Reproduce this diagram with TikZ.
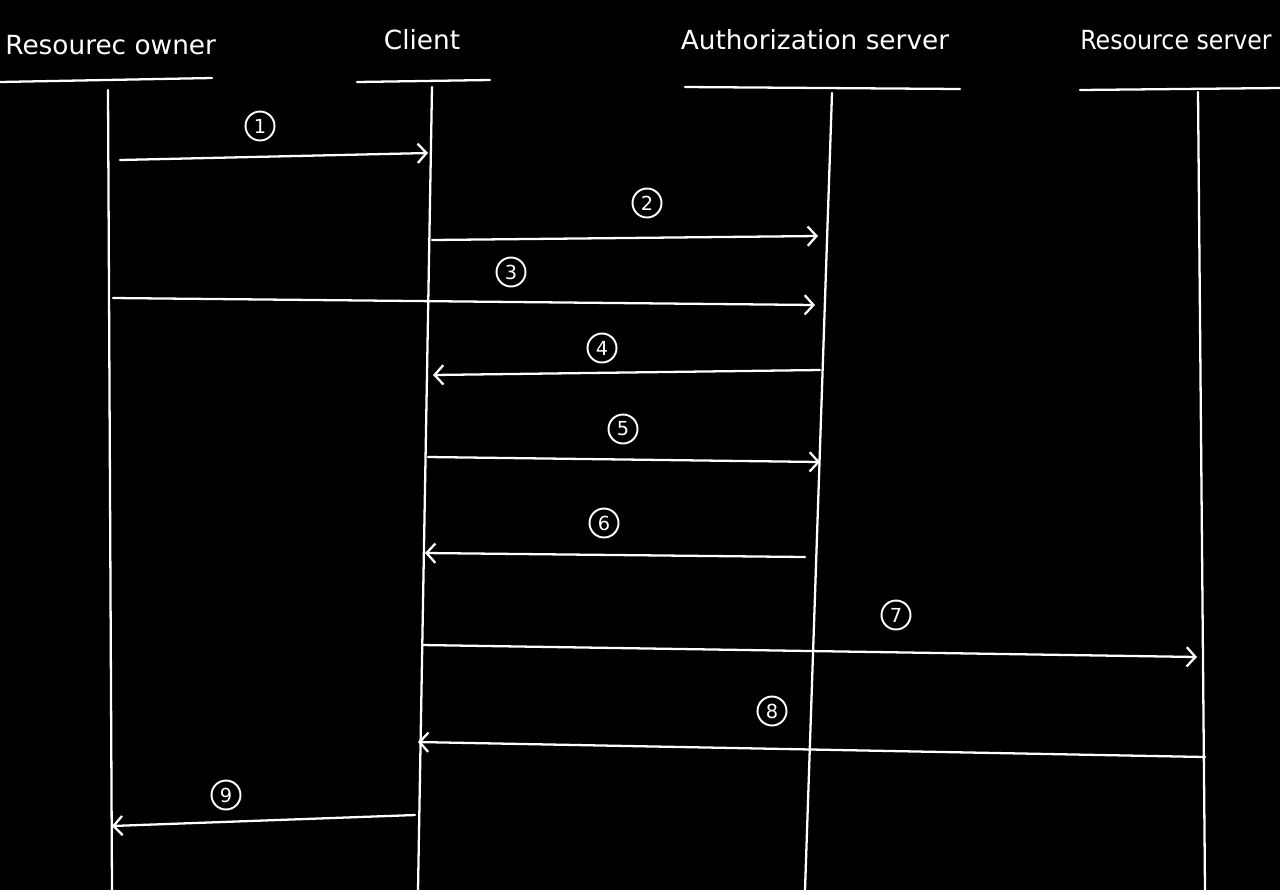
\documentclass[tikz,border=0pt]{standalone}
\usepackage{fontspec}
\setmainfont{DejaVu Sans}
\usetikzlibrary{arrows.meta,positioning}

\begin{document}
\begin{tikzpicture}[
    x=0.02cm, y=-0.02cm,
    actor/.style={text=white, font=\fontsize{15}{18}\selectfont, inner sep=0pt},
    header/.style={draw=white, line width=1.3pt, line cap=round},
    lifeline/.style={draw=white, line width=1.3pt, line cap=round},
    msg/.style={draw=white, line width=1.3pt, line cap=round, -{Straight Barb[length=5pt,width=11pt,line width=1.3pt]}},
    numlabel/.style={circle, draw=white, line width=1.1pt, text=white, minimum size=0.58cm, inner sep=0pt, font=\fontsize{11}{13}\selectfont}
]

% Background
\fill[black] (0,0) rectangle (1280,890);
\useasboundingbox (0,0) rectangle (1280,890);

% Participants
\node[actor, anchor=west] at (5,45) (owner) {Resourec owner};
\node[actor] at (422,40) (client) {Client};
\node[actor] at (815,40) (auth) {Authorization server};
\node[actor, anchor=east, xscale=0.9] at (1272,40) (resource) {Resource server};

% Header lines
\draw[header] (0,82) -- (212,78);
\draw[header] (357,82) -- (490,80);
\draw[header] (685,87) -- (960,89);
\draw[header] (1080,90) -- (1280,88);

% Lifelines
\coordinate (ownertop) at (108,90);
\coordinate (ownerbot) at (112,890);
\coordinate (clienttop) at (432,87);
\coordinate (clientbot) at (418,890);
\coordinate (authtop) at (832,93);
\coordinate (authbot) at (805,890);
\coordinate (restop) at (1198,92);
\coordinate (resbot) at (1205,890);
\draw[lifeline] (ownertop) -- (ownerbot);
\draw[lifeline] (clienttop) -- (clientbot);
\draw[lifeline] (authtop) -- (authbot);
\draw[lifeline] (restop) -- (resbot);

% Message end points
\coordinate (m1a) at (120,160);  \coordinate (m1b) at (428,153);
\coordinate (m2a) at (432,240);  \coordinate (m2b) at (818,236);
\coordinate (m3a) at (113,298);  \coordinate (m3b) at (815,305);
\coordinate (m4a) at (820,370);  \coordinate (m4b) at (433,375);
\coordinate (m5a) at (428,457);  \coordinate (m5b) at (820,462);
\coordinate (m6a) at (805,557);  \coordinate (m6b) at (425,553);
\coordinate (m7a) at (422,645);  \coordinate (m7b) at (1197,657);
\coordinate (m8a) at (1205,757); \coordinate (m8b) at (418,742);
\coordinate (m9a) at (415,815);  \coordinate (m9b) at (112,826);

% Messages
\draw[msg] (m1a) -- (m1b);
\draw[msg] (m2a) -- (m2b);
\draw[msg] (m3a) -- (m3b);
\draw[msg] (m4a) -- (m4b);
\draw[msg] (m5a) -- (m5b);
\draw[msg] (m6a) -- (m6b);
\draw[msg] (m7a) -- (m7b);
\draw[msg] (m8a) -- (m8b);
\draw[msg] (m9a) -- (m9b);

% Step numbers
\node[numlabel] at (260,126) (n1) {1};
\node[numlabel] at (647,203) (n2) {2};
\node[numlabel] at (511,272) (n3) {3};
\node[numlabel] at (602,348) (n4) {4};
\node[numlabel] at (623,429) (n5) {5};
\node[numlabel] at (604,523) (n6) {6};
\node[numlabel] at (896,615) (n7) {7};
\node[numlabel] at (772,711) (n8) {8};
\node[numlabel] at (226,795) (n9) {9};

\end{tikzpicture}
\end{document}
